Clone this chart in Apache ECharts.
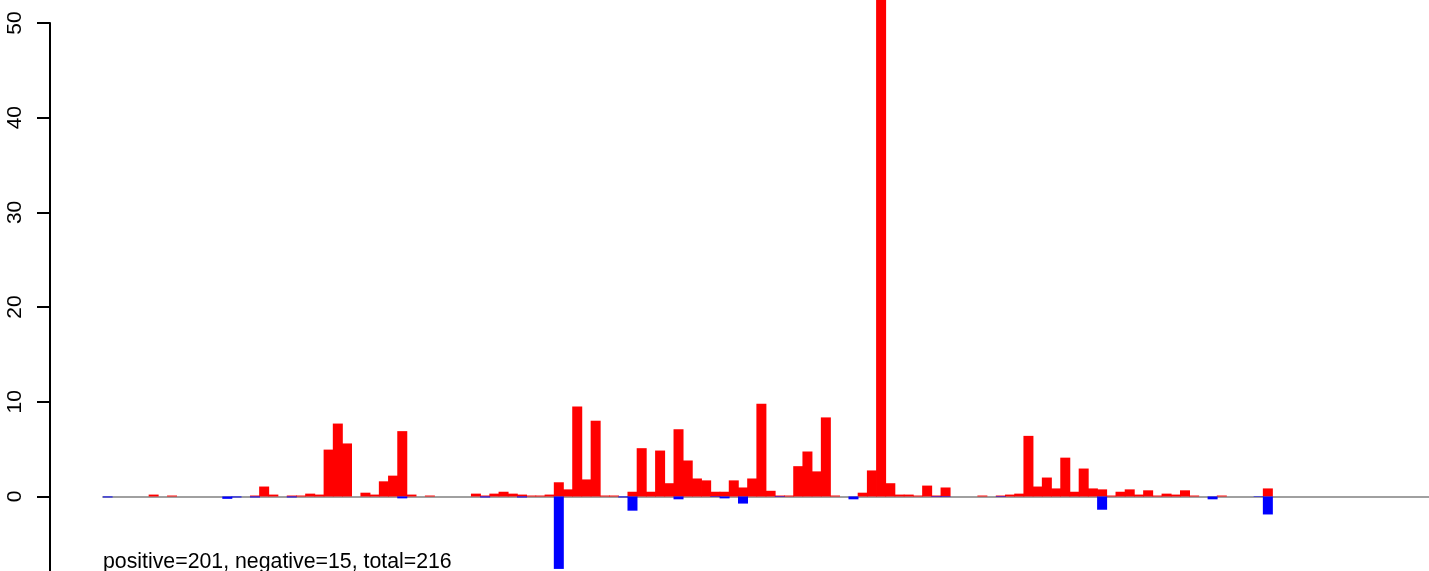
<!DOCTYPE html>
<html>
<head>
<meta charset="utf-8">
<title>positive / negative bars</title>
<script src="https://cdn.jsdelivr.net/npm/echarts@6/dist/echarts.min.js"></script>
<style>
  html, body { margin: 0; padding: 0; background: #fff; }
  #chart { width: 1429px; height: 571px; }
</style>
</head>
<body>
<div id="chart"></div>
<script>
// Barras rojas (positivas) y azules (negativas) por posición

// número de posiciones en el eje x
const slotCount = 144;

// valores positivos: [posición, valor]
const positiveValues = [
  [5, 0.2], [7, 0.1], [16, 0.1], [17, 1.05], [18, 0.2], [20, 0.1], [21, 0.1],
  [22, 0.3], [23, 0.2], [24, 4.95], [25, 7.7], [26, 5.6], [28, 0.4], [29, 0.2],
  [30, 1.6], [31, 2.2], [32, 6.9], [33, 0.2], [35, 0.1], [40, 0.3], [41, 0.1],
  [42, 0.3], [43, 0.5], [44, 0.3], [45, 0.2], [46, 0.1], [47, 0.1], [48, 0.2],
  [49, 1.5], [50, 0.75], [51, 9.5], [52, 1.8], [53, 8.0], [54, 0.1], [55, 0.1],
  [57, 0.5], [58, 5.1], [59, 0.5], [60, 4.85], [61, 1.4], [62, 7.1], [63, 3.8],
  [64, 1.9], [65, 1.7], [66, 0.5], [67, 0.5], [68, 1.7], [69, 0.95], [70, 1.9],
  [71, 9.8], [72, 0.6], [73, 0.1], [74, 0.1], [75, 3.2], [76, 4.75], [77, 2.65],
  [78, 8.35], [79, 0.1], [82, 0.4], [83, 2.75], [84, 60], [85, 1.4], [86, 0.2],
  [87, 0.2], [88, 0.1], [89, 1.15], [90, 0.1], [91, 0.95], [95, 0.1], [97, 0.1],
  [98, 0.2], [99, 0.3], [100, 6.4], [101, 1.05], [102, 2.0], [103, 0.85],
  [104, 4.1], [105, 0.5], [106, 2.95], [107, 0.85], [108, 0.75], [109, 0.1],
  [110, 0.5], [111, 0.75], [112, 0.2], [113, 0.65], [114, 0.1], [115, 0.3],
  [116, 0.2], [117, 0.65], [118, 0.1], [121, 0.1], [126, 0.85]
];

// valores negativos: [posición, valor]
const negativeValues = [
  [0, -0.1], [13, -0.25], [14, -0.1], [16, -0.1], [20, -0.1], [32, -0.2],
  [41, -0.1], [45, -0.1], [49, -7.65], [56, -0.1], [57, -1.5], [62, -0.3],
  [66, -0.05], [67, -0.2], [69, -0.75], [73, -0.05], [81, -0.3], [90, -0.05],
  [91, -0.05], [97, -0.05], [108, -1.4], [120, -0.3], [125, -0.05], [126, -1.9]
];

// marcas del eje y
const yTickValues = [0, 10, 20, 30, 40, 50];
const yMin = -7.87;
const yMax = 50;

const summaryText = "positive=201, negative=15, total=216";

function toSeries(pairs) {
  const out = new Array(slotCount).fill(null);
  pairs.forEach(([i, v]) => { out[i] = v; });
  return out;
}

const slots = Array.from({ length: slotCount }, (_, i) => String(i + 1));

const chart = echarts.init(document.getElementById("chart"));

const option = {
  animation: false,
  backgroundColor: "#ffffff",
  textStyle: { fontFamily: "Liberation Sans, Arial, sans-serif" },
  grid: { left: 103, right: -2, top: 23, bottom: 0, containLabel: false },
  xAxis: {
    type: "category",
    data: slots,
    axisLine: { onZero: true, lineStyle: { color: "#a0a0a0", width: 2 } },
    axisTick: { show: false },
    axisLabel: { show: false },
    splitLine: { show: false },
  },
  yAxis: {
    type: "value",
    min: yMin,
    max: yMax,
    offset: 53,
    axisLine: { show: true, onZero: false, lineStyle: { color: "#000", width: 2 } },
    axisTick: {
      show: true,
      length: 13,
      customValues: yTickValues,
      lineStyle: { color: "#000", width: 2 },
    },
    axisLabel: {
      rotate: 90,
      margin: 24,
      fontSize: 21,
      color: "#000",
      customValues: yTickValues,
      fontFamily: "Liberation Sans, Arial, sans-serif",
    },
    splitLine: { show: false },
  },
  series: [
    {
      name: "positive",
      type: "bar",
      data: toSeries(positiveValues),
      barWidth: 10,
      barGap: "-100%",
      clip: false,
      itemStyle: { color: "#ff0000" },
    },
    {
      name: "negative",
      type: "bar",
      data: toSeries(negativeValues),
      barWidth: 10,
      barGap: "-100%",
      clip: true,
      itemStyle: { color: "#0000ff" },
    },
  ],
  graphic: [
    {
      type: "text",
      left: 103,
      top: 552,
      style: {
        text: summaryText,
        font: "21.3px 'Liberation Sans', Arial, sans-serif",
        fill: "#000",
      },
    },
  ],
};

chart.setOption(option);

window.addEventListener("resize", function () {
  chart.resize();
});
</script>
</body>
</html>
